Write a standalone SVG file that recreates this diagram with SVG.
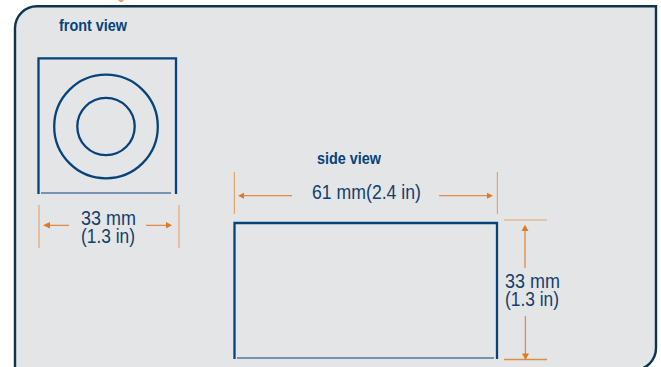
<svg xmlns="http://www.w3.org/2000/svg" width="661" height="367" viewBox="0 0 661 367">
<style>
.o{fill:none;stroke:#06437a;stroke-width:2.3}
.t{fill:none;stroke:#06437a;stroke-width:1}
.d{fill:none;stroke:#e6a46c;stroke-width:1.2}
.a{fill:none;stroke:#df8c46;stroke-width:1.3}
.h{fill:#dd7a26}
text{font-family:"Liberation Sans",Arial,sans-serif;fill:#123f6d}
.b{font-weight:700;font-size:16px;fill:#06437a}
.m{font-size:19.500px}
</style>
<rect width="661" height="367" fill="#fff"/>
<path d="M118 0H124L122 2H120Z" fill="#e8a060"/>
<path id="panel" d="M15 370V28A22 22 0 0 1 37 6.300H656V348A22 22 0 0 1 634 370Z" fill="#e4e5e7" stroke="#0d3550" stroke-width="2.400"/>
<g id="front-view">
<path class="o" d="M38.500 194V58.300H176V194"/>
<path class="t" d="M41 193H171"/>
<circle class="o" cx="106" cy="126.500" r="51.800"/>
<circle class="o" cx="106" cy="126.500" r="28.700"/>
<text class="b" x="59" y="31" textLength="68" lengthAdjust="spacingAndGlyphs">front view</text>
</g>
<g id="side-view">
<path class="o" d="M234.500 359V223H497V359"/>
<path class="t" d="M237 358H494"/>
<text class="b" x="317" y="164" textLength="64" lengthAdjust="spacingAndGlyphs">side view</text>
</g>
<g id="connectors">
<path class="d" d="M39 205V248M179 205V248M234.400 172V214M497.400 172V214M504 220H547"/>
<path class="a" d="M504 359.500H547M49 225.300H69M146 225.300H167M243 195.700H292M439 195.700H488M525 230V268M525.400 316V355"/>
<path class="h" d="M43 225.300L50 222V228.600ZM172 225.300L166 222V228.600ZM238 195.700L244 192.700V198.700ZM493 195.700L487 192.700V198.700ZM525 224.700L528.500 231H521.500ZM525.500 360L522 353.500H529Z"/>
</g>
<g id="labels">
<text class="m"><tspan x="81" y="225" textLength="55" lengthAdjust="spacingAndGlyphs">33 mm</tspan><tspan x="81" y="243" textLength="54" lengthAdjust="spacingAndGlyphs">(1.3 in)</tspan></text>
<text class="m" x="312" y="199" textLength="109" lengthAdjust="spacingAndGlyphs">61 mm(2.4 in)</text>
<text class="m"><tspan x="505" y="288" textLength="55" lengthAdjust="spacingAndGlyphs">33 mm</tspan><tspan x="505" y="306" textLength="54" lengthAdjust="spacingAndGlyphs">(1.3 in)</tspan></text>
</g>
</svg>
